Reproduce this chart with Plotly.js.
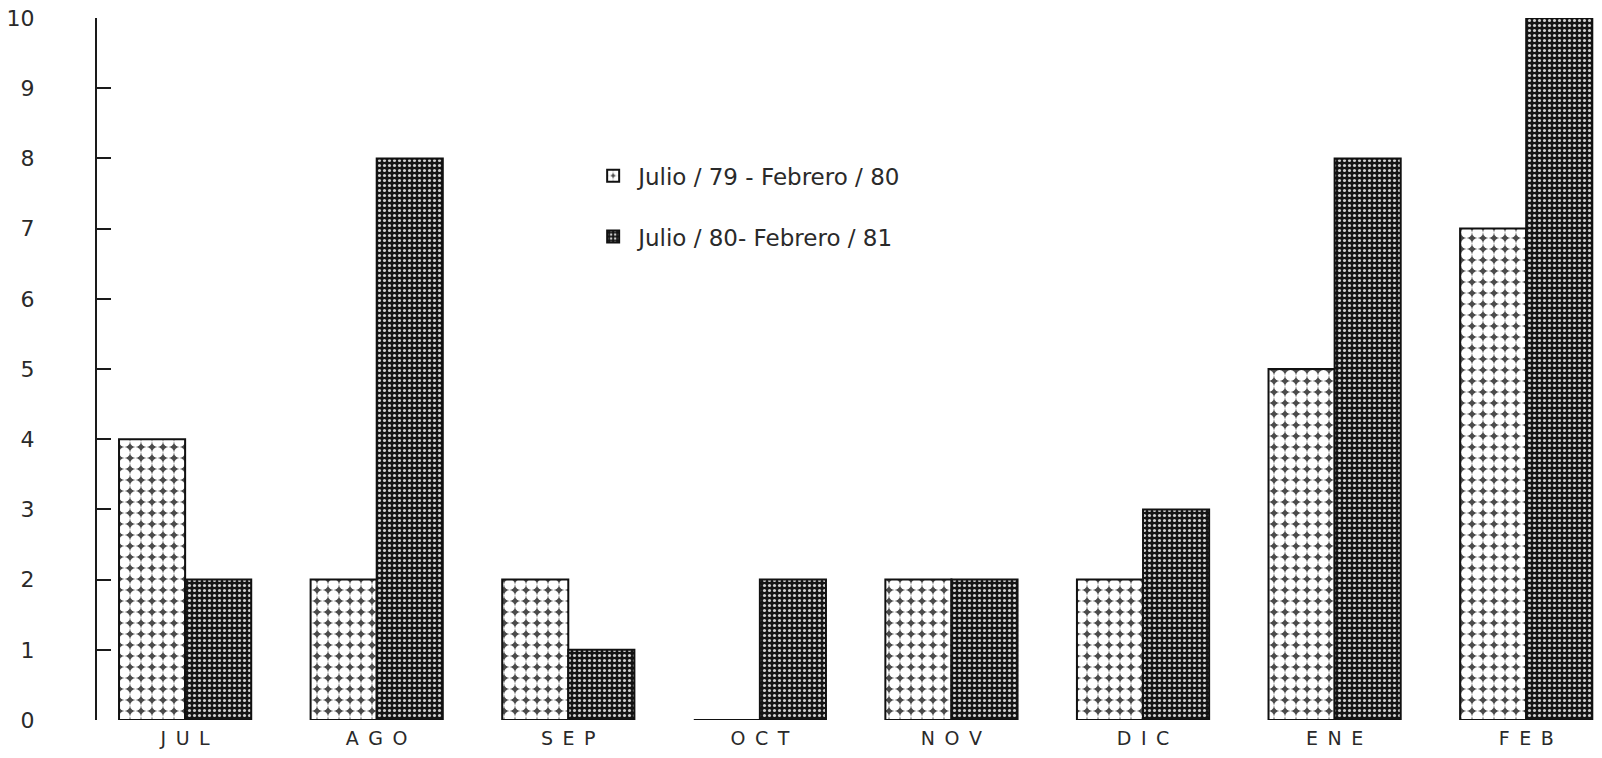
<!DOCTYPE html>
<html>
<head>
<meta charset="utf-8">
<script src="https://cdn.plot.ly/plotly-3.0.1.min.js"></script>
<style>html,body{margin:0;padding:0;background:#fff;}#chart{width:1602px;height:758px;}</style>
</head>
<body>
<div id="chart"></div>
<script>
const months = ["JUL", "AGO", "SEP", "OCT", "NOV", "DIC", "ENE", "FEB"];
const monthLabels = ["J\u2002U\u2002L", "A\u2002G\u2002O", "S\u2002E\u2002P", "O\u2002C\u2002T", "N\u2002O\u2002V", "D\u2002I\u2002C", "E\u2002N\u2002E", "F\u2002E\u2002B"];
const seriesNames = ["Julio / 79 - Febrero / 80", "Julio / 80- Febrero / 81"];
const season7980 = [4, 2, 2, 0, 2, 2, 5, 7];
const season8081 = [2, 8, 1, 2, 2, 3, 8, 10];
const yTicks = [0, 1, 2, 3, 4, 5, 6, 7, 8, 9, 10];

const fontFam = "DejaVu Sans, Verdana, sans-serif";

const traces = [
  {
    type: "bar", name: seriesNames[0], x: months, y: season7980,
    legendgroup: "a",
    marker: {
      color: "#ffffff",
      line: {color: "#111", width: 2},
      pattern: {shape: ".", bgcolor: "#4a4a4a", fgcolor: "#ffffff", size: 11, solidity: 0.76, fillmode: "replace"}
    },
    hoverinfo: "x+y"
  },
  {
    type: "bar", name: seriesNames[1], x: months, y: season8081,
    legendgroup: "b",
    marker: {
      color: "#111",
      line: {color: "#111", width: 2},
      pattern: {shape: ".", bgcolor: "#141414", fgcolor: "#cfcfcf", size: 5, solidity: 0.3, fillmode: "replace"}
    },
    hoverinfo: "x+y"
  }
];

const layout = {
  width: 1602, height: 758,
  paper_bgcolor: "#ffffff", plot_bgcolor: "#ffffff",
  margin: {l: 97, r: 3, t: 18, b: 38},
  barmode: "group",
  bargap: 0.31,
  bargroupgap: 0,
  font: {family: fontFam, color: "#2a2a2a"},
  showlegend: true,
  legend: {
    x: 0.327, y: 0.806, xanchor: "left", yanchor: "top",
    font: {size: 23, family: fontFam, color: "#2a2a2a"},
    bgcolor: "rgba(0,0,0,0)",
    tracegroupgap: 28,
    traceorder: "grouped",
    itemwidth: 40
  },
  xaxis: {
    type: "category",
    range: [-0.46, 7.38],
    tickmode: "array",
    tickvals: months,
    ticktext: monthLabels,
    showline: false, showgrid: false, zeroline: false,
    ticks: "",
    tickfont: {size: 19, family: fontFam, color: "#2a2a2a"},
    ticklabelstandoff: 5
  },
  yaxis: {
    range: [0, 10],
    tickmode: "array",
    tickvals: yTicks,
    showline: true, linecolor: "#1a1a1a", linewidth: 2,
    showgrid: false, zeroline: false,
    ticks: "inside", ticklen: 14, tickwidth: 2, tickcolor: "#1a1a1a",
    tickfont: {size: 22, family: fontFam, color: "#2a2a2a"},
    ticklabelstandoff: 56
  }
};

Plotly.newPlot("chart", traces, layout, {displayModeBar: false, staticPlot: true});
</script>
</body>
</html>
